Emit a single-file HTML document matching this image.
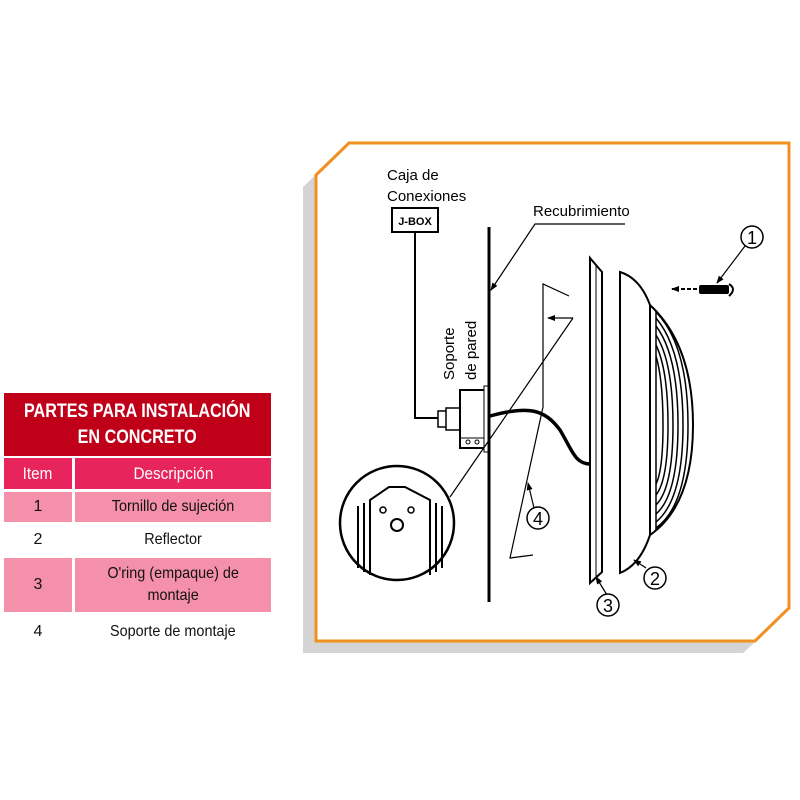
<!DOCTYPE html>
<html><head><meta charset="utf-8"><style>
body{margin:0;width:800px;height:800px;background:#fff;position:relative;font-family:"Liberation Sans",sans-serif;overflow:hidden}
.c{position:absolute;display:flex;align-items:center;justify-content:center;text-align:center;color:#111;font-size:16px;line-height:22px}
.c span{display:inline-block;transform:scaleX(0.9)}
</style></head><body>
<div class="c" style="left:4px;top:393px;width:267px;height:63px;background:#c00018;color:#fff;font-weight:bold;font-size:19px;line-height:26px"><span style="transform:scaleX(0.85);white-space:nowrap">PARTES PARA INSTALACIÓN<br>EN CONCRETO</span></div>
<div class="c" style="left:4px;top:458px;width:68px;height:31px;background:#e8245c;color:#fff;font-size:17px"><span>Item</span></div>
<div class="c" style="left:75px;top:458px;width:196px;height:31px;background:#e8245c;color:#fff;font-size:17px"><span>Descripción</span></div>
<div class="c" style="left:4px;top:492px;width:68px;height:30px;background:#f590aa">1</div>
<div class="c" style="left:75px;top:492px;width:196px;height:30px;background:#f590aa"><span>Tornillo de sujeción</span></div>
<div class="c" style="left:4px;top:524px;width:68px;height:32px">2</div>
<div class="c" style="left:75px;top:524px;width:196px;height:32px"><span>Reflector</span></div>
<div class="c" style="left:4px;top:558px;width:68px;height:54px;background:#f590aa">3</div>
<div class="c" style="left:75px;top:558px;width:196px;height:54px;background:#f590aa"><span>O'ring (empaque) de<br>montaje</span></div>
<div class="c" style="left:4px;top:615px;width:68px;height:34px">4</div>
<div class="c" style="left:75px;top:615px;width:196px;height:34px"><span>Soporte de montaje</span></div>

<svg width="800" height="800" style="position:absolute;left:0;top:0" font-family="Liberation Sans, sans-serif">
<defs><marker id="a" markerWidth="8" markerHeight="8" refX="7" refY="4" orient="auto" markerUnits="userSpaceOnUse"><path d="M0,1 L8,4 L0,7z" fill="#000"/></marker></defs>
<polygon points="303,187 336,155 777,155 777,622 743,653 303,653" fill="#d4d4d4"/>
<polygon points="316,175 349,143 789,143 789,608 755,641 316,641" fill="#fff" stroke="#f0901e" stroke-width="3"/>
<text x="387" y="180" font-size="15">Caja de</text>
<text x="387" y="201" font-size="15">Conexiones</text>
<rect x="392" y="208" width="46" height="24" fill="#fff" stroke="#000" stroke-width="2"/>
<text x="415" y="225" font-size="11" text-anchor="middle" font-weight="bold">J-BOX</text>
<polyline points="415,232 415,418 440,418" fill="none" stroke="#000" stroke-width="2"/>
<line x1="489" y1="227" x2="489" y2="602" stroke="#000" stroke-width="3"/>
<text x="533" y="216" font-size="15">Recubrimiento</text>
<polyline points="625,224 535,224 491,290" fill="none" stroke="#000" stroke-width="1.2" marker-end="url(#a)"/>
<text transform="translate(454,380) rotate(-90)" font-size="15">Soporte</text>
<text transform="translate(476,380) rotate(-90)" font-size="15">de pared</text>
<rect x="438" y="411" width="9" height="16" fill="#fff" stroke="#000" stroke-width="1.5"/>
<rect x="446" y="408" width="14" height="22" fill="#fff" stroke="#000" stroke-width="1.5"/>
<rect x="460" y="390" width="27" height="58" fill="#fff" stroke="#000" stroke-width="2"/>
<line x1="460" y1="438" x2="484" y2="438" stroke="#000"/>
<circle cx="468" cy="442" r="2" fill="none" stroke="#000"/><circle cx="477" cy="442" r="2" fill="none" stroke="#000"/>
<rect x="484" y="386" width="4" height="66" fill="#fff" stroke="#000"/>
<path d="M490,416 C530,405 545,410 560,430 C572,450 575,464 590,464" fill="none" stroke="#000" stroke-width="3.5"/>
<polyline points="569,296 543,284 543,407 510,558 533,555" fill="none" stroke="#000" stroke-width="1.2"/>
<line x1="573" y1="318" x2="548" y2="318" stroke="#000" stroke-width="1.2" marker-end="url(#a)"/>
<line x1="573" y1="318" x2="450" y2="497" stroke="#000" stroke-width="1.2"/>
<line x1="534" y1="508" x2="528" y2="483" stroke="#000" stroke-width="1.2" marker-end="url(#a)"/>
<circle cx="538" cy="518" r="11" fill="#fff" stroke="#000" stroke-width="1.5"/>
<text x="538" y="525" font-size="18" text-anchor="middle">4</text>
<circle cx="397" cy="523" r="57" fill="#fff" stroke="#000" stroke-width="2.5"/>
<path d="M358,506 L358,568 M364,503 L364,572 M370,500 L370,575 L370,500 L389,487 L405,487 L430,500 L430,575 M436,503 L436,572 M442,506 L442,568" fill="none" stroke="#000" stroke-width="2"/>
<circle cx="383" cy="510" r="3" fill="none" stroke="#000" stroke-width="1.5"/><circle cx="411" cy="510" r="3" fill="none" stroke="#000" stroke-width="1.5"/>
<circle cx="397" cy="525" r="6" fill="none" stroke="#000" stroke-width="2"/>
<polygon points="590,258 602,272 602,572 590,583" fill="#fff" stroke="#000" stroke-width="2"/>
<line x1="596" y1="265" x2="596" y2="577" stroke="#000" stroke-width="1"/>
<line x1="607" y1="595" x2="596" y2="577" stroke="#000" stroke-width="1.2" marker-end="url(#a)"/>
<circle cx="608" cy="605" r="11" fill="#fff" stroke="#000" stroke-width="1.5"/>
<text x="608" y="612" font-size="18" text-anchor="middle">3</text>
<path d="M620,272 Q640,278 650,305 Q693,345 693,425 Q693,505 650,535 Q640,565 620,573 Z" fill="#fff" stroke="#000" stroke-width="2"/>
<line x1="650" y1="305" x2="650" y2="535" stroke="#000" stroke-width="2"/>
<line x1="656" y1="310" x2="656" y2="530" stroke="#000" stroke-width="1.5"/>
<g fill="none" stroke="#000" stroke-width="1.5">
<path d="M656,312 Q688,345 688,425 Q688,505 656,528"/>
<path d="M656,318 Q683,350 683,425 Q683,500 656,522"/>
<path d="M656,326 Q678,355 678,425 Q678,495 656,514"/>
<path d="M656,335 Q673,362 673,425 Q673,488 656,505"/>
<path d="M656,345 Q668,370 668,425 Q668,480 656,495"/>
<path d="M656,356 Q663,380 663,425 Q663,470 656,484"/>
</g>
<line x1="646" y1="568" x2="634" y2="560" stroke="#000" stroke-width="1.2" marker-end="url(#a)"/>
<circle cx="655" cy="578" r="11" fill="#fff" stroke="#000" stroke-width="1.5"/>
<text x="655" y="585" font-size="18" text-anchor="middle">2</text>
<line x1="697" y1="289" x2="672" y2="289" stroke="#000" stroke-width="2" stroke-dasharray="4,2" marker-end="url(#a)"/>
<rect x="699" y="285" width="30" height="9" rx="2" fill="#000"/>
<path d="M729,284 Q737,289 729,296" fill="#fff" stroke="#000" stroke-width="2"/>
<line x1="745" y1="246" x2="717" y2="283" stroke="#000" stroke-width="1.2" marker-end="url(#a)"/>
<circle cx="752" cy="237" r="11" fill="#fff" stroke="#000" stroke-width="1.5"/>
<text x="752" y="244" font-size="18" text-anchor="middle">1</text>
</svg>
</body></html>
